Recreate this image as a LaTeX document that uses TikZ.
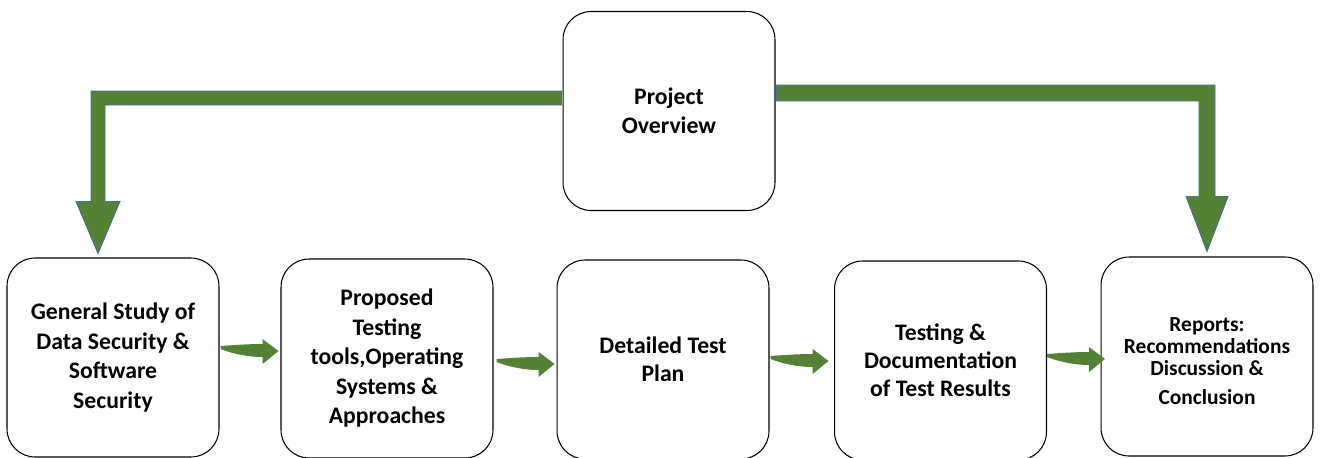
\documentclass[tikz,border=0pt]{standalone}
\usepackage{fontspec}
\setmainfont{Carlito}
\usetikzlibrary{calc}
\definecolor{agreen}{RGB}{84,130,53}
\definecolor{aedge}{RGB}{65,113,156}
\begin{document}
\begin{tikzpicture}[x=0.02cm,y=-0.02cm,
  box/.style={draw=black, line width=0.6pt, rounded corners=0.56cm,
    minimum width=4.24cm, minimum height=3.98cm, align=center, inner sep=0pt,
    font=\bfseries\fontsize{13.5}{16.8}\selectfont},
  blockarrow/.style={fill=agreen, draw=aedge, line width=0.5pt},
  curvarrow/.pic={\fill[agreen] (0,-1) .. controls (14,-2) and (28,-3) .. (42,-3)
      -- (42,-8) -- (58,4) -- (42,17) -- (42,10)
      .. controls (26,10) and (10,6) .. (0,2) -- cycle;}]
\useasboundingbox (0,0) rectangle (1322,457);

\node[box] (po) at (669,111) {Project\\Overview};
\node[box] (g1) at (113,357.5) {General Study of\\Data Security \&\\Software\\Security};
\node[box] (g2) at (387,358.5) {Proposed\\Testing\\tools,Operating\\Systems \&\\Approaches};
\node[box, font=\bfseries\fontsize{13.5}{16}\selectfont] (g3) at (663,359.5) {Detailed Test\\Plan};
\node[box, font=\bfseries\fontsize{13.5}{15.8}\selectfont] (g4) at (940.5,360.5) {Testing \&\\Documentation\\of Test Results};
\node[box, font=\bfseries\fontsize{12.2}{12.5}\selectfont] (g5) at (1207,356.5) {\rule{0pt}{13pt}Reports:\\Recommendations\\Discussion \&\\[4pt]Conclusion};

% left block arrow
\coordinate (ls) at ($(po.west)+(-1,-13)$);
\coordinate (lt) at ($(g1.north)+(-15,-4)$);
\draw[blockarrow] ($(ls)+(0,-7)$) -- ($(lt|-ls)+(-7,-7)$) -- ($(lt)+(-7,-52)$)
  -- ($(lt)+(-22,-52)$) -- (lt) -- ($(lt)+(22,-52)$) -- ($(lt)+(7,-52)$)
  -- ($(lt|-ls)+(7,7)$) -- ($(ls)+(0,7)$) -- cycle;

% right block arrow
\coordinate (rs) at ($(po.east)+(1,-18)$);
\coordinate (rt) at ($(g5.north)+(0,-5)$);
\draw[blockarrow] ($(rs)+(0,-8)$) -- ($(rt|-rs)+(8,-8)$) -- ($(rt)+(8,-55)$)
  -- ($(rt)+(21,-55)$) -- (rt) -- ($(rt)+(-21,-55)$) -- ($(rt)+(-8,-55)$)
  -- ($(rt|-rs)+(-8,8)$) -- ($(rs)+(0,8)$) -- cycle;

% small curved arrows
\pic at ($(g1.east)+(1,-10.5)$) {curvarrow};
\pic at ($(g2.east)+(3,1.5)$) {curvarrow};
\pic at ($(g3.east)+(1,-2.5)$) {curvarrow};
\pic at ($(g4.east)+(0,-5.5)$) {curvarrow};
\end{tikzpicture}
\end{document}
